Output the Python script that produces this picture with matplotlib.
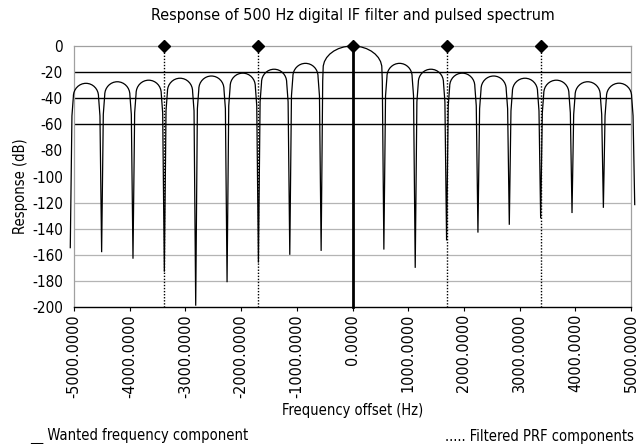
import matplotlib
matplotlib.use("Agg")
import matplotlib.pyplot as plt
from matplotlib.path import Path
from matplotlib.patches import PathPatch

# null positions of the filter response (Hz) and their depths (dB)
null_hz = [-5067, -4504, -3941, -3378, -2815, -2252, -1689, -1126, -563,
           563, 1126, 1689, 2252, 2815, 3378, 3941, 4504, 5067]
null_db = [-155, -158, -163, -173, -199, -181, -166, -160, -157,
           -156, -170, -149, -143, -137, -132, -128, -124, -122]
# peak level of each lobe between two neighbouring nulls
peak_db = [-28.6, -27.4, -26.2, -24.7, -23.0, -20.8, -17.8, -13.3, 0.0,
           -13.3, -17.8, -20.8, -23.0, -24.7, -26.2, -27.4, -28.5]

wanted_hz = [0]
prf_hz = [-3378, -1689, 1689, 3378]
marker_hz = [-3378, -1689, 0, 1689, 3378]
marker_db = [0, 0, 0, 0, 0]
mask_db = [-20, -40, -60]
grid_db = [-120, -140, -160, -180]
x_ticks = [-5000, -4000, -3000, -2000, -1000, 0, 1000, 2000, 3000, 4000, 5000]
y_ticks = [0, -20, -40, -60, -80, -100, -120, -140, -160, -180, -200]

plt.rcParams['font.family'] = ['DejaVu Sans']
plt.rcParams['font.stretch'] = 'condensed'

fig = plt.figure(figsize=(6.42, 4.44), dpi=100)
ax = fig.add_axes([74 / 642, 1 - 307 / 444, 557 / 642, 261 / 444])
ax.set_xlim(-5000, 5000)
ax.set_ylim(-200, 0)

# horizontal lines
for y in grid_db:
    ax.axhline(y, color="#b4b4b4", lw=0.9, zorder=1)
for y in mask_db:
    ax.axhline(y, color="black", lw=1.0, zorder=2)

# response curve: each lobe drawn as a rounded dome between its nulls
k = 0.5523
verts = [(null_hz[0], null_db[0])]
codes = [Path.MOVETO]
for i, top in enumerate(peak_db):
    x0, x1 = null_hz[i], null_hz[i + 1]
    xc = (x0 + x1) / 2
    if top == 0:
        drop, edge, mid, dmid = 17, 36, 28, 10
    else:
        drop, edge, mid, dmid = 10, 56, 30, 15
    ys = top - drop
    xl, xr = x0 + edge, x1 - edge
    verts += [(x0 + mid, ys - dmid), (xl, ys),
              (xl, ys + k * (top - ys)), (xc - k * (xc - xl), top), (xc, top),
              (xc + k * (xr - xc), top), (xr, ys + k * (top - ys)), (xr, ys),
              (x1 - mid, ys - dmid), (x1, null_db[i + 1])]
    codes += [Path.LINETO, Path.LINETO,
              Path.CURVE4, Path.CURVE4, Path.CURVE4,
              Path.CURVE4, Path.CURVE4, Path.CURVE4,
              Path.LINETO, Path.LINETO]
curve = PathPatch(Path(verts, codes), fill=False, edgecolor="black", lw=0.9,
                  transform=ax.transData, clip_on=False, zorder=3)
ax.add_patch(curve)

# wanted component and PRF components
for x in wanted_hz:
    ax.plot([x, x], [0, -200], color="black", lw=2.0, zorder=4, clip_on=False)
for x in prf_hz:
    ax.plot([x, x], [0, -200], color="black", lw=1.0, ls=(0, (1, 1.2)), zorder=4)
ax.plot(marker_hz, marker_db, ls="none", marker="D", ms=6, color="black",
        zorder=5, clip_on=False)

ax.set_xticks(x_ticks)
ax.set_xticklabels(["%.4f" % v for v in x_ticks], rotation=90, fontsize=11.5)
ax.set_yticks(y_ticks)
ax.set_yticklabels([str(v) for v in y_ticks], fontsize=11)
ax.tick_params(axis="x", direction="out", length=3, width=0.8, pad=2)
ax.tick_params(axis="y", length=0, pad=8)

for side in ["top", "right", "left"]:
    ax.spines[side].set_color("#a0a0a0")
    ax.spines[side].set_linewidth(0.9)
ax.spines["bottom"].set_color("black")
ax.spines["bottom"].set_linewidth(1.0)

ax.set_title("Response of 500 Hz digital IF filter and pulsed spectrum",
             fontsize=11.5, pad=19)
ax.set_ylabel("Response (dB)", fontsize=10.5)
ax.yaxis.label.set_verticalalignment("center")
ax.yaxis.set_label_coords((20 - 74) / 557, (307 - 186) / 261)
ax.set_xlabel("Frequency offset (Hz)", fontsize=10.5)
ax.xaxis.set_label_coords(0.5, (307 - 403) / 261)

fig.text(30 / 642, 1 - 436 / 444, "__ Wanted frequency component",
         fontsize=10.5, va="center", ha="left")
fig.text(634 / 642, 1 - 436 / 444, "..... Filtered PRF components",
         fontsize=10.5, va="center", ha="right")

plt.savefig("out.png", dpi=100)
